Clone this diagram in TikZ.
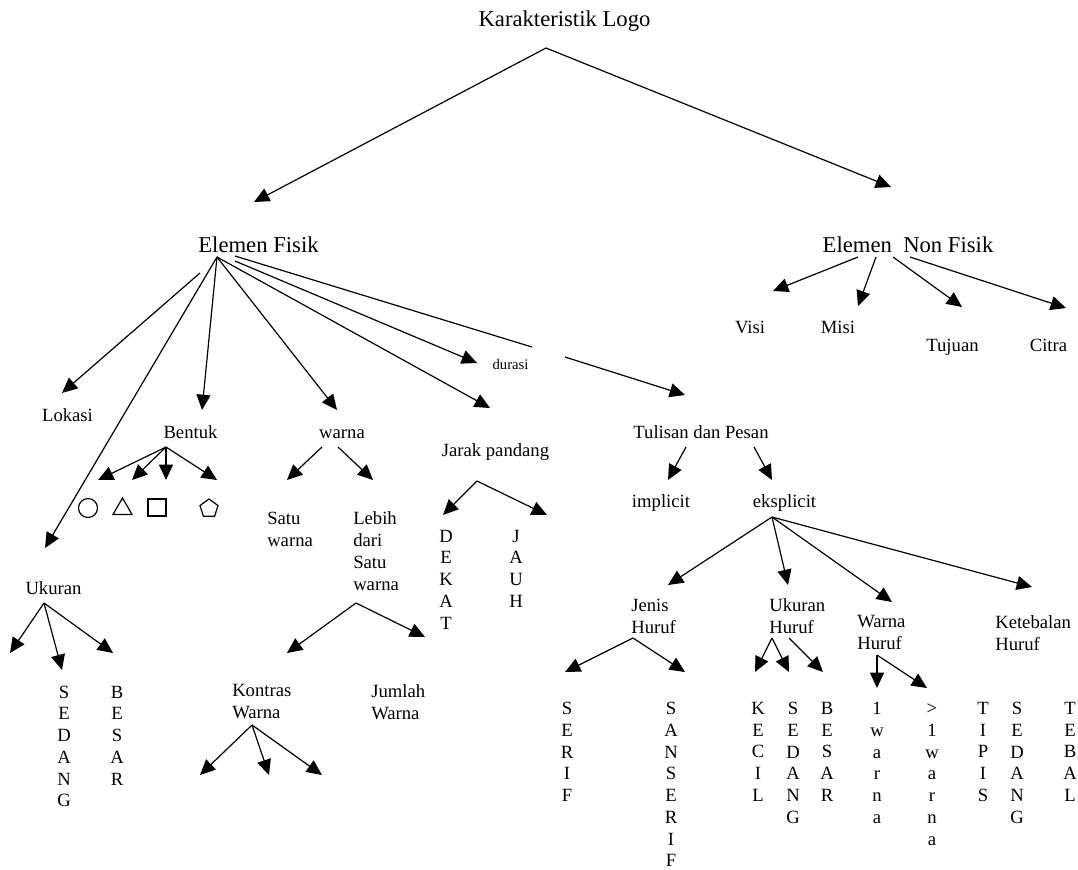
\documentclass[tikz,border=0pt]{standalone}
\usepackage{fontspec}
\setmainfont{Liberation Serif}
\usetikzlibrary{arrows.meta,shapes.geometric}
\begin{document}
\begin{tikzpicture}[x=0.75pt,y=-0.75pt,
  lbl/.style={inner sep=0pt, font=\fontsize{14}{16.5}\selectfont},
  big/.style={inner sep=0pt, font=\fontsize{17}{20}\selectfont},
  small/.style={inner sep=0pt, font=\fontsize{11}{13}\selectfont},
  stack/.style={inner sep=0pt, font=\fontsize{14}{16.3}\selectfont, align=center, anchor=north},
  multi/.style={lbl, align=left, anchor=north west},
  arr/.style={-{Triangle[length=11.5pt,width=10.5pt]}, line width=0.9pt},
  plain/.style={line width=0.9pt},
  sym/.style={draw, line width=0.9pt, inner sep=0pt}
]
\useasboundingbox (0,0) rectangle (1078,869);

% ---------- labels ----------
\node[big, anchor=base] (kl)  at (564.5,26) {Karakteristik Logo};
\node[big, anchor=base] (ef)  at (258.5,252) {Elemen Fisik};
\node[big, anchor=base] (enf) at (908,252) {Elemen\ \ Non Fisik};

\node[lbl, anchor=base] (visi)   at (750,333)  {Visi};
\node[lbl, anchor=base] (misi)   at (838,333)  {Misi};
\node[lbl, anchor=base] (tujuan) at (952.5,351) {Tujuan};
\node[lbl, anchor=base] (citra)  at (1048.5,351) {Citra};

\node[lbl, anchor=base] (lokasi) at (67.5,421)  {Lokasi};
\node[lbl, anchor=base] (bentuk) at (190.5,438) {Bentuk};
\node[lbl, anchor=base] (warna)  at (342,438)   {warna};
\node[lbl, anchor=base] (jarak)  at (495.5,456) {Jarak pandang};
\node[small, anchor=base] (durasi) at (510.5,369) {durasi};
\node[lbl, anchor=base] (tulisan) at (701,438)  {Tulisan dan Pesan};
\node[lbl, anchor=base] (implicit) at (661,507) {implicit};
\node[lbl, anchor=base] (eksplicit) at (784.5,507) {eksplicit};
\node[lbl, anchor=base] (ukuran) at (53.5,594) {Ukuran};

\node[multi] (satu)    at (267,511.4) {Satu\\warna};
\node[multi] (lebih)   at (353,511.4) {Lebih\\dari\\Satu\\warna};
\node[multi] (kontras) at (232,684.4) {Kontras\\Warna};
\node[multi] (jumlah)  at (371,684.4) {Jumlah\\Warna};
\node[multi] (jenis)   at (631,598.4) {Jenis\\Huruf};
\node[multi] (ukh)     at (769,598.4) {Ukuran\\Huruf};
\node[multi] (wh)      at (857,615.4) {Warna\\Huruf};
\node[multi] (kh)      at (995,615.4) {Ketebalan\\Huruf};

% vertical letter columns
\node[stack] (dekat) at (446,529.6) {D\\E\\K\\A\\T};
\node[stack] (jauh)  at (516,529.6) {J\\A\\U\\H};
\node[stack] (sedL)  at (64,685.6)  {S\\E\\D\\A\\N\\G};
\node[stack] (besL)  at (117,685.6) {B\\E\\S\\A\\R};
\node[stack] (serif) at (567,702) {S\\E\\R\\I\\F};
\node[stack] (sans)  at (671,702) {S\\A\\N\\S\\E\\R\\I\\F};
\node[stack] (kecil) at (758,702) {K\\E\\C\\I\\L};
\node[stack] (sedH)  at (793,702) {S\\E\\D\\A\\N\\G};
\node[stack] (besH)  at (827,702) {B\\E\\S\\A\\R};
\node[stack] (satuw) at (877,702) {1\\w\\a\\r\\n\\a};
\node[stack] (lebw)  at (932,702) {>\vphantom{1}\\1\\w\\a\\r\\n\\a};
\node[stack] (tipis) at (983,702) {T\\I\\P\\I\\S};
\node[stack] (sedT)  at (1017,702) {S\\E\\D\\A\\N\\G};
\node[stack] (tebal) at (1070,702) {T\\E\\B\\A\\L};

% shape symbols under Bentuk
\node[sym, circle, minimum size=14.25pt] (lingkaran) at (88,508) {};
\node[sym, regular polygon, regular polygon sides=3, minimum size=16.5pt] (segitiga) at (122.5,509) {};
\node[sym, rectangle, minimum width=13.5pt, minimum height=12.75pt] (persegi) at (157,507.5) {};
\node[sym, regular polygon, regular polygon sides=5, minimum size=14.25pt] (segilima) at (209,508.5) {};

% ---------- connector points ----------
\coordinate (kl-hub) at (546,48);
\coordinate (ef-in)  at (254,202);
\coordinate (enf-in) at (891,187);

\coordinate (ef-hub)  at (217,257);
\coordinate (ef-lok)  at (200,273);
\coordinate (ef-dur)  at (235,261);
\coordinate (ef-tul)  at (235,256);
\coordinate (tul-a)   at (532,347);
\coordinate (tul-b)   at (565,357);
\coordinate (lokasi-in) at (62,393);
\coordinate (ukuran-in) at (45,548);
\coordinate (bentuk-in) at (202,410);
\coordinate (warna-in)  at (337,410);
\coordinate (jarak-in)  at (490,408);
\coordinate (durasi-in) at (477,363);
\coordinate (tulisan-in) at (685,395);

\coordinate (visi-from)   at (858,257);
\coordinate (misi-from)   at (876,257);
\coordinate (tujuan-from) at (893,257);
\coordinate (citra-from)  at (910,257);
\coordinate (visi-in)   at (773,291);
\coordinate (misi-in)   at (858,306);
\coordinate (tujuan-in) at (962,307);
\coordinate (citra-in)  at (1066,308);

\coordinate (b-hub) at (166,447);
\coordinate (b-1) at (98,480);
\coordinate (b-2) at (132,480);
\coordinate (b-3) at (166,480);
\coordinate (b-4) at (217,480);

\coordinate (w-l) at (322,447);
\coordinate (w-r) at (338,447);
\coordinate (satu-in)  at (287,480);
\coordinate (lebih-in) at (373,480);

\coordinate (l-hub) at (356,603);
\coordinate (kontras-in) at (287,653);
\coordinate (jumlah-in)  at (425,637);

\coordinate (j-hub) at (477,481);
\coordinate (dekat-in) at (443,515);
\coordinate (jauh-in)  at (547,515);

\coordinate (k-hub) at (252,725);
\coordinate (k-1) at (200,775);
\coordinate (k-2) at (269,775);
\coordinate (k-3) at (322,775);

\coordinate (u-hub) at (44,603);
\coordinate (u-1) at (10,653);
\coordinate (sedL-in) at (62,670);
\coordinate (besL-in) at (113,653);

\coordinate (t-l) at (686,447);
\coordinate (t-r) at (754,447);
\coordinate (implicit-in)  at (668,480);
\coordinate (eksplicit-in) at (772,480);

\coordinate (e-hub) at (772,517);
\coordinate (jenis-in) at (668,585);
\coordinate (ukh-in)   at (788,585);
\coordinate (wh-in)    at (892,602);
\coordinate (kh-in)    at (1032,587);

\coordinate (jh-hub) at (633,638);
\coordinate (serif-in) at (565,672);
\coordinate (sans-in)  at (685,672);

\coordinate (uh-hub) at (772,638);
\coordinate (uh-r)   at (789,638);
\coordinate (kecil-in) at (755,672);
\coordinate (sedH-in)  at (789,672);
\coordinate (besH-in)  at (823,672);

\coordinate (wh-hub) at (877,655);
\coordinate (satuw-in) at (877,688);
\coordinate (lebw-in)  at (927,688);

% ---------- connectors ----------
\draw[arr] (kl-hub) -- (ef-in);
\draw[arr] (kl-hub) -- (enf-in);

\draw[arr] (ef-lok) -- (lokasi-in);
\draw[arr] (ef-hub) -- (ukuran-in);
\draw[arr] (ef-hub) -- (bentuk-in);
\draw[arr] (ef-hub) -- (warna-in);
\draw[arr] (ef-hub) -- (jarak-in);
\draw[arr] (ef-dur) -- (durasi-in);
\draw[plain] (ef-tul) -- (tul-a);
\draw[arr] (tul-b) -- (tulisan-in);

\draw[arr] (visi-from) -- (visi-in);
\draw[arr] (misi-from) -- (misi-in);
\draw[arr] (tujuan-from) -- (tujuan-in);
\draw[arr] (citra-from) -- (citra-in);

\foreach \t in {b-1,b-2,b-3,b-4} \draw[arr] (b-hub) -- (\t);

\draw[arr] (w-l) -- (satu-in);
\draw[arr] (w-r) -- (lebih-in);

\draw[arr] (l-hub) -- (kontras-in);
\draw[arr] (l-hub) -- (jumlah-in);

\draw[arr] (j-hub) -- (dekat-in);
\draw[arr] (j-hub) -- (jauh-in);

\foreach \t in {k-1,k-2,k-3} \draw[arr] (k-hub) -- (\t);

\draw[arr] (u-hub) -- (u-1);
\draw[arr] (u-hub) -- (sedL-in);
\draw[arr] (u-hub) -- (besL-in);

\draw[arr] (t-l) -- (implicit-in);
\draw[arr] (t-r) -- (eksplicit-in);

\draw[arr] (e-hub) -- (jenis-in);
\draw[arr] (e-hub) -- (ukh-in);
\draw[arr] (e-hub) -- (wh-in);
\draw[arr] (e-hub) -- (kh-in);

\draw[arr] (jh-hub) -- (serif-in);
\draw[arr] (jh-hub) -- (sans-in);

\draw[arr] (uh-hub) -- (kecil-in);
\draw[arr] (uh-hub) -- (sedH-in);
\draw[arr] (uh-r) -- (besH-in);

\draw[arr] (wh-hub) -- (satuw-in);
\draw[arr] (wh-hub) -- (lebw-in);
\end{tikzpicture}
\end{document}
